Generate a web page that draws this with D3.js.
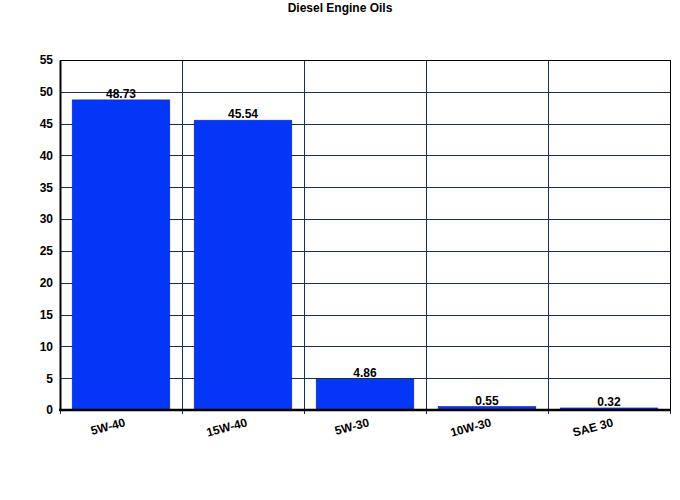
<!DOCTYPE html>
<html>
<head>
<meta charset="utf-8">
<script src="https://cdn.jsdelivr.net/npm/d3@7"></script>
<style>
  body { margin: 0; background: #fff; }
  text { font-family: Arial, "Liberation Sans", sans-serif; font-weight: bold; }
</style>
</head>
<body>
<div id="chart"></div>
<script>
// Chart data
var grades = ["5W-40", "15W-40", "5W-30", "10W-30", "SAE 30"];
var shares = [48.73, 45.54, 4.86, 0.55, 0.32];
var yTicks = [0, 5, 10, 15, 20, 25, 30, 35, 40, 45, 50, 55];

var svgWidth = 680;
var svgHeight = 500;

var margin = { top: 60, right: 10, bottom: 90, left: 60 };
var width = svgWidth - margin.left - margin.right;
var height = svgHeight - margin.top - margin.bottom;

var svg = d3.select("#chart")
  .append("svg")
  .attr("width", svgWidth)
  .attr("height", svgHeight);

// Title
svg.append("text")
  .attr("x", 340)
  .attr("y", 12)
  .attr("text-anchor", "middle")
  .style("font-size", "12px")
  .text("Diesel Engine Oils");

var chartGroup = svg.append("g")
  .attr("transform", `translate(${margin.left}, ${margin.top})`);

// Scales
var xBandScale = d3.scaleBand()
  .domain(grades)
  .range([0, width])
  .paddingInner(0.2)
  .paddingOuter(0.1);

var yLinearScale = d3.scaleLinear()
  .domain([0, 55])
  .range([height, 0]);

var step = xBandScale.step();
var boundaries = d3.range(grades.length + 1).map(i => i * step);

// Horizontal grid lines
chartGroup.selectAll(".hgrid")
  .data(yTicks)
  .enter()
  .append("line")
  .attr("x1", 0)
  .attr("x2", width)
  .attr("y1", d => Math.round(yLinearScale(d)) + 0.5)
  .attr("y2", d => Math.round(yLinearScale(d)) + 0.5)
  .attr("stroke", "#12305a")
  .attr("stroke-width", 1);

// Vertical grid lines between categories
chartGroup.selectAll(".vgrid")
  .data(boundaries)
  .enter()
  .append("line")
  .attr("x1", d => Math.round(d) + 0.5)
  .attr("x2", d => Math.round(d) + 0.5)
  .attr("y1", 0)
  .attr("y2", height + 4)
  .attr("stroke", "#12305a")
  .attr("stroke-width", 1);

// Bars
chartGroup.selectAll(".bar")
  .data(shares)
  .enter()
  .append("rect")
  .attr("x", (d, i) => xBandScale(grades[i]))
  .attr("y", d => yLinearScale(d))
  .attr("width", xBandScale.bandwidth())
  .attr("height", d => height - yLinearScale(d))
  .attr("fill", "#0436f8")
  .attr("stroke", "#0a2a9a")
  .attr("stroke-width", 0.6);

// Value labels
chartGroup.selectAll(".val")
  .data(shares)
  .enter()
  .append("text")
  .attr("x", (d, i) => xBandScale(grades[i]) + xBandScale.bandwidth() / 2)
  .attr("y", d => yLinearScale(d) - 2)
  .attr("text-anchor", "middle")
  .style("font-size", "12px")
  .text(d => d.toFixed(2));

// Frame: top and right thin, left and bottom thick
chartGroup.append("line")
  .attr("x1", 0).attr("x2", width)
  .attr("y1", 0.5).attr("y2", 0.5)
  .attr("stroke", "#000");
chartGroup.append("line")
  .attr("x1", width + 0.5).attr("x2", width + 0.5)
  .attr("y1", 0).attr("y2", height)
  .attr("stroke", "#000");

// Y axis
var leftAxis = d3.axisLeft(yLinearScale)
  .tickValues(yTicks)
  .tickSize(0)
  .tickPadding(7);

var yAxisGroup = chartGroup.append("g").call(leftAxis);
yAxisGroup.select(".domain").attr("stroke", "#000").attr("stroke-width", 2);
yAxisGroup.selectAll("text")
  .style("font-size", "12px")
  .style("font-family", "Arial, 'Liberation Sans', sans-serif")
  .style("font-weight", "bold")
  .attr("fill", "#000");

// X axis line
chartGroup.append("line")
  .attr("x1", -1).attr("x2", width + 1)
  .attr("y1", height).attr("y2", height)
  .attr("stroke", "#000")
  .attr("stroke-width", 2.5);

// X labels, slightly rotated
chartGroup.selectAll(".xlab")
  .data(grades)
  .enter()
  .append("text")
  .attr("transform", d => `translate(${xBandScale(d) + xBandScale.bandwidth() / 2 + 5}, ${height + 16}) rotate(-15)`)
  .attr("text-anchor", "end")
  .style("font-size", "12px")
  .text(d => d);
</script>
</body>
</html>
